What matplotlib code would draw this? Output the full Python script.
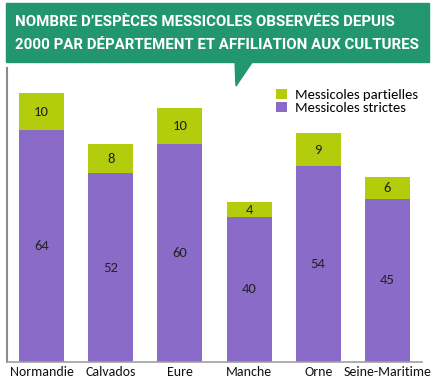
import matplotlib
matplotlib.use('Agg')
import matplotlib.pyplot as plt
from matplotlib import font_manager
from matplotlib.patches import Rectangle, Polygon

departements = ['Normandie', 'Calvados', 'Eure', 'Manche', 'Orne', 'Seine-Maritime']
strictes = [64, 52, 60, 40, 54, 45]
partielles = [10, 8, 10, 4, 9, 6]
titre = ["NOMBRE D’ESPÈCES MESSICOLES OBSERVÉES DEPUIS",
         "2000 PAR DÉPARTEMENT ET AFFILIATION AUX CULTURES"]

PURPLE = '#8a6cc8'
GREEN = '#b3cd0c'
BANNER = '#22976f'

W, H = 435, 389


def pick(names):
    have = {f.name for f in font_manager.fontManager.ttflist}
    for n in names:
        if n in have:
            return n
    return 'DejaVu Sans'


title_font = pick(['Liberation Sans Narrow', 'Roboto', 'Liberation Sans'])
body_font = pick(['Carlito', 'Lato', 'Liberation Sans'])


def fx(x):
    return x / W


def fy(y):
    return 1 - y / H


fig = plt.figure(figsize=(W / 100, H / 100), dpi=100)
ax = fig.add_axes([fx(7), fy(362), fx(422) - fx(7), fy(68) - fy(362)])

xs = range(len(departements))
ax.bar(xs, strictes, width=0.65, color=PURPLE, label='Messicoles strictes')
ax.bar(xs, partielles, width=0.65, bottom=strictes, color=GREEN, label='Messicoles partielles')

for i, (s, p) in enumerate(zip(strictes, partielles)):
    ax.text(i, s / 2, str(s), ha='center', va='center', fontsize=10.5, color='#222222', family=body_font)
    ax.text(i, s + p / 2, str(p), ha='center', va='center', fontsize=10.5, color='#222222', family=body_font)

ax.set_xlim(-0.5, 5.5)
ax.set_ylim(0, 81)
ax.set_xticks(list(xs))
ax.set_xticklabels(departements, fontsize=10, family=body_font, color='#111111')
ax.tick_params(axis='x', length=0, pad=3)
ax.set_yticks([])
for side in ['top', 'right']:
    ax.spines[side].set_visible(False)
ax.spines['left'].set_color('#8c8c8c')
ax.spines['bottom'].set_color('#a0a0a0')
ax.spines['left'].set_linewidth(1.5)
ax.spines['bottom'].set_linewidth(1.2)

handles, labels = ax.get_legend_handles_labels()
ax.legend(handles[::-1], labels[::-1], loc='upper left', bbox_to_anchor=(0.635, 0.95),
          frameon=False, handlelength=0.75, handleheight=0.75, handletextpad=0.55,
          labelspacing=0.05, borderaxespad=0, prop={'family': body_font, 'size': 10.5})

# bandeau du titre
fig.patches.append(Rectangle((fx(6), fy(62)), fx(429) - fx(6), fy(3) - fy(62),
                             transform=fig.transFigure, color=BANNER, zorder=0))
fig.patches.append(Polygon([(fx(235), fy(61)), (fx(253), fy(61)), (fx(236), fy(86))],
                           closed=True, transform=fig.transFigure, color=BANNER, zorder=0))

renderer = fig.canvas.get_renderer()
t1 = fig.text(fx(15), fy(22), titre[0], color='white', fontsize=14, fontweight='bold',
              family=title_font, va='center', ha='left')
t2 = fig.text(fx(15), fy(45), titre[1], color='white', fontsize=14, fontweight='bold',
              family=title_font, va='center', ha='left')
# ajuster la taille pour que la 2e ligne tienne dans le bandeau
w2 = t2.get_window_extent(renderer).width
size = 14 * 405 / w2
t1.set_fontsize(size)
t2.set_fontsize(size)

fig.savefig('out.png', dpi=100)
